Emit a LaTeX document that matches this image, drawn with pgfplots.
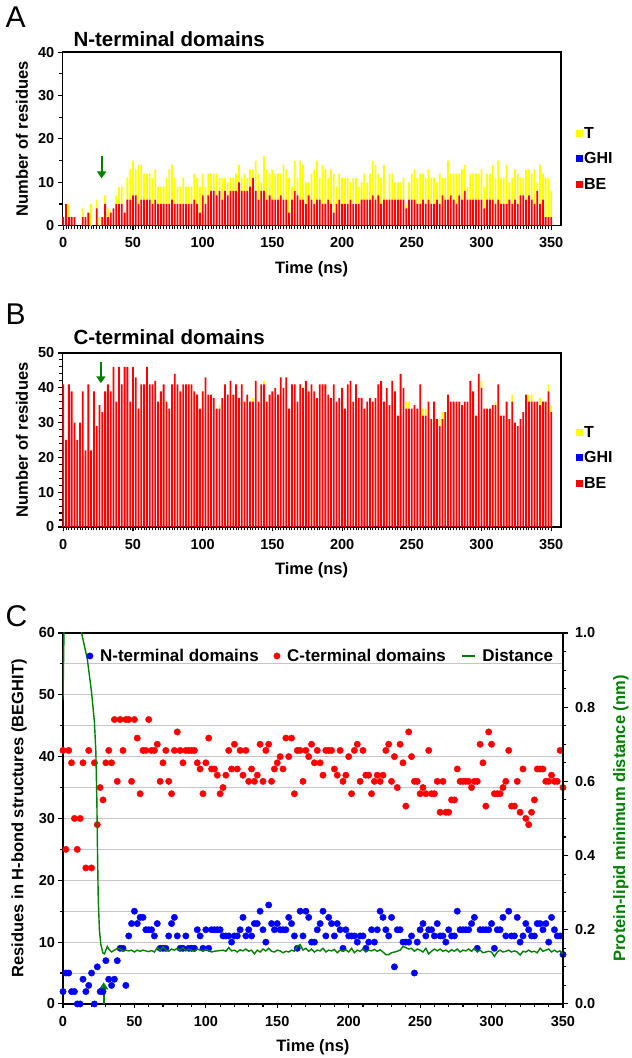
\documentclass[border=0pt]{standalone}
\usepackage{fontspec}
\setmainfont{Liberation Sans}
\usepackage{pgfplots}
\pgfplotsset{compat=1.18}
\usepackage{pgfplotstable}
\usetikzlibrary{arrows.meta}
\definecolor{dgreen}{RGB}{0,128,0}
\definecolor{myyellow}{RGB}{255,255,0}

% N-terminal domains: total (BEGHIT), BE, T
\pgfplotstableread{
t tot BE T
0 2 2 0
2 5 5 0
4 5 2 3
6 2 2 0
8 2 2 0
10 0 0 0
12 0 0 0
14 4 2 2
16 2 2 0
18 3 3 0
20 5 0 5
22 0 0 0
24 6 4 2
26 2 0 2
28 2 2 0
30 7 5 2
32 4 2 2
34 3 3 0
36 4 4 0
38 7 5 2
40 9 5 4
42 9 5 4
44 3 3 0
46 11 6 5
48 13 6 7
50 15 7 8
52 13 7 6
54 14 5 9
56 14 6 8
58 12 6 6
60 12 6 6
62 12 6 6
64 11 5 6
66 13 6 7
68 9 5 4
70 9 5 4
72 9 5 4
74 11 5 6
76 13 5 8
78 14 6 8
80 11 5 6
82 9 5 4
84 9 5 4
86 11 5 6
88 9 5 4
90 9 5 4
92 9 5 4
94 12 6 6
96 11 5 6
98 9 3 6
100 12 7 5
102 9 5 4
104 12 7 5
106 12 8 4
108 12 8 4
110 12 7 5
112 11 8 3
114 11 6 5
116 11 8 3
118 10 7 3
120 11 8 3
122 11 8 3
124 12 8 4
126 14 10 4
128 11 8 3
130 12 8 4
132 11 8 3
134 13 9 4
136 13 11 2
138 15 8 7
140 12 6 6
142 10 8 2
144 16 8 8
146 13 6 7
148 12 7 5
150 13 6 7
152 12 6 6
154 12 6 6
156 12 7 5
158 14 6 8
160 13 6 7
162 11 3 8
164 9 6 3
166 15 8 7
168 11 7 4
170 15 6 9
172 14 6 8
174 10 5 5
176 10 7 3
178 12 6 6
180 13 5 8
182 15 6 9
184 11 6 5
186 14 5 9
188 13 5 8
190 11 6 5
192 13 5 8
194 12 3 9
196 9 5 4
198 12 6 6
200 11 5 6
202 11 5 6
204 11 5 6
206 10 6 4
208 11 5 6
210 11 5 6
212 9 5 4
214 10 6 4
216 12 6 6
218 10 6 4
220 12 6 6
222 15 7 8
224 14 6 8
226 12 7 5
228 11 5 6
230 14 6 8
232 6 6 0
234 12 6 6
236 12 6 6
238 10 6 4
240 10 6 4
242 10 6 4
244 11 6 5
246 5 4 1
248 10 6 4
250 12 6 6
252 13 6 7
254 11 5 6
256 12 5 7
258 12 6 6
260 11 5 6
262 13 6 7
264 11 5 6
266 11 5 6
268 10 6 4
270 12 5 7
272 11 7 4
274 11 6 5
276 15 6 9
278 12 7 5
280 12 6 6
282 12 5 7
284 12 7 5
286 13 6 7
288 14 8 6
290 9 6 3
292 12 6 6
294 12 6 6
296 12 6 6
298 12 6 6
300 13 6 7
302 9 4 5
304 12 6 6
306 12 6 6
308 14 6 8
310 11 5 6
312 15 6 9
314 11 5 6
316 11 5 6
318 14 5 9
320 10 6 4
322 11 5 6
324 13 6 7
326 12 5 7
328 11 7 4
330 11 7 4
332 13 6 7
334 13 7 6
336 12 6 6
338 13 5 8
340 10 8 2
342 14 5 9
344 12 6 6
346 11 2 9
348 11 2 9
350 8 2 6
}\Ntab

% C-terminal domains: total (BEGHIT), BE, T
\pgfplotstableread{
t tot BE T
0 41 41 0
2 25 25 0
4 41 41 0
6 39 39 0
8 30 30 0
10 25 25 0
12 30 30 0
14 39 39 0
16 22 22 0
18 41 41 0
20 22 22 0
22 39 39 0
24 29 29 0
26 35 35 0
28 33 33 0
30 39 39 0
32 41 41 0
34 39 39 0
36 46 46 0
38 36 36 0
40 46 46 0
42 41 41 0
44 46 46 0
46 46 46 0
48 36 36 0
50 46 46 0
52 43 43 0
54 34 34 0
56 41 41 0
58 41 41 0
60 46 46 0
62 41 41 0
64 41 41 0
66 42 42 0
68 36 36 0
70 39 39 0
72 41 41 0
74 36 36 0
76 34 34 0
78 41 41 0
80 44 44 0
82 41 41 0
84 39 39 0
86 41 41 0
88 41 41 0
90 41 41 0
92 41 41 0
94 39 39 0
96 38 38 0
98 34 34 0
100 39 39 0
102 43 43 0
104 38 38 0
106 38 38 0
108 37 37 0
110 34 34 0
112 35 34 1
114 37 37 0
116 41 41 0
118 38 38 0
120 42 42 0
122 38 38 0
124 41 41 0
126 37 37 0
128 41 41 0
130 36 36 0
132 38 38 0
134 36 36 0
136 37 36 1
138 42 42 0
140 36 36 0
142 41 41 0
144 42 41 1
146 36 36 0
148 38 38 0
150 39 39 0
152 40 40 0
154 38 38 0
156 43 43 0
158 40 40 0
160 43 43 0
162 34 34 0
164 41 41 0
166 41 41 0
168 36 36 0
170 41 41 0
172 40 40 0
174 42 42 0
176 39 39 0
178 41 41 0
180 39 39 0
182 37 37 0
184 41 41 0
186 41 41 0
188 41 41 0
190 38 38 0
192 37 37 0
194 41 41 0
196 36 36 0
198 37 37 0
200 40 40 0
202 34 34 0
204 41 41 0
206 42 42 0
208 36 36 0
210 41 41 0
212 37 37 0
214 37 37 0
216 34 34 0
218 36 36 0
220 37 37 0
222 36 36 0
224 37 37 0
226 41 41 0
228 42 42 0
230 36 36 0
232 40 40 0
234 35 35 0
236 42 42 0
238 39 39 0
240 32 32 0
242 44 44 0
244 40 40 0
246 36 34 2
248 36 34 2
250 34 34 0
252 35 35 0
254 34 34 0
256 41 41 0
258 34 32 2
260 34 32 2
262 36 36 0
264 31 31 0
266 36 36 0
268 31 31 0
270 31 29 2
272 33 31 2
274 33 33 0
276 38 38 0
278 36 36 0
280 36 36 0
282 36 36 0
284 36 36 0
286 35 35 0
288 36 36 0
290 36 36 0
292 42 42 0
294 39 39 0
296 32 32 0
298 44 44 0
300 42 40 2
302 34 34 0
304 34 34 0
306 34 34 0
308 35 35 0
310 36 35 1
312 41 41 0
314 32 32 0
316 32 32 0
318 36 36 0
320 31 31 0
322 38 36 2
324 30 30 0
326 29 29 0
328 31 31 0
330 33 33 0
332 38 38 0
334 38 36 2
336 38 36 2
338 36 36 0
340 36 36 0
342 37 35 2
344 36 36 0
346 36 36 0
348 41 39 2
350 35 33 2
}\Ctab

% protein-lipid minimum distance (nm)
\pgfplotstableread{
t d
0 0.82
0.5 0.95
1 1.08
2 1.25
4 1.35
8 1.35
11 1.2
13 1.0
17 0.93
20 0.84
22 0.76
23 0.68
23.7 0.55
24.2 0.40
24.7 0.28
25.5 0.20
26.5 0.16
28 0.137
29 0.135
30 0.145
31 0.155
32 0.148
34 0.14
36 0.145
38 0.15
40 0.148
42 0.142
44 0.145
46 0.143
48 0.145
50 0.14
52 0.145
54 0.142
56 0.145
58 0.143
60 0.141
62 0.144
64 0.14
66 0.152
68 0.143
70 0.155
72 0.145
74 0.142
76 0.148
78 0.145
80 0.15
82 0.145
84 0.152
86 0.143
88 0.148
90 0.145
92 0.142
94 0.148
96 0.145
98 0.143
100 0.147
102 0.144
104 0.14
106 0.142
108 0.143
110 0.144
112 0.145
114 0.142
116 0.152
118 0.143
120 0.145
122 0.14
124 0.146
126 0.143
128 0.148
130 0.142
132 0.145
134 0.135
136 0.145
138 0.14
140 0.148
142 0.143
144 0.15
146 0.142
148 0.14
150 0.145
152 0.143
154 0.138
156 0.142
158 0.14
160 0.145
162 0.142
164 0.155
166 0.16
168 0.145
170 0.15
172 0.142
174 0.148
176 0.14
178 0.145
180 0.143
182 0.15
184 0.14
186 0.145
188 0.143
190 0.147
192 0.138
194 0.145
196 0.142
198 0.146
200 0.14
202 0.15
204 0.138
206 0.145
208 0.142
210 0.148
212 0.14
214 0.145
216 0.143
218 0.147
220 0.142
222 0.146
224 0.14
226 0.133
228 0.133
230 0.138
232 0.14
234 0.142
236 0.145
238 0.155
240 0.152
242 0.148
244 0.15
246 0.142
248 0.148
250 0.145
252 0.14
254 0.15
256 0.135
258 0.142
260 0.148
262 0.143
264 0.148
266 0.142
268 0.145
270 0.14
272 0.146
274 0.142
276 0.148
278 0.14
280 0.145
282 0.143
284 0.148
286 0.142
288 0.15
290 0.14
292 0.145
294 0.138
296 0.14
298 0.142
300 0.14
302 0.128
304 0.14
306 0.145
308 0.14
310 0.142
312 0.145
314 0.14
316 0.143
318 0.14
320 0.132
322 0.142
324 0.14
326 0.145
328 0.14
330 0.142
332 0.138
334 0.15
336 0.142
338 0.145
340 0.148
342 0.14
344 0.145
346 0.14
348 0.143
350 0.135
}\Dtab

\pgfplotsset{
  base/.style={
    scale only axis,
    axis line style={line width=1.4pt},
    every tick/.style={black, line width=1.1pt},
    major tick length=4.5pt, minor tick length=3pt,
    tick align=outside,
    tick label style={font=\fontsize{14.5}{16}\selectfont\bfseries},
    xticklabel style={yshift=-4pt},
    /pgf/number format/assume math mode=true,
    label style={font=\fontsize{16.5}{19}\selectfont\bfseries},
  },
  sqleg/.style={legend image code/.code={\fill[##1] (0pt,-3.5pt) rectangle (7pt,3.5pt);}},
  lineleg/.style={legend image code/.code={\draw[##1] (0pt,0pt) -- (13pt,0pt);}},
  dotleg/.style={legend image code/.code={\draw[##1] plot coordinates {(0pt,0pt)};}},
  barpanel/.style={
    base, tick pos=left,
    xmin=-0.7, xmax=357,
    xtick={0,50,...,350}, minor x tick num=24,
    minor x tick style={line width=0.9pt},
    ybar stacked, bar width=1.3,
    xlabel={Time (ns)}, ylabel={Number of residues},
    xlabel style={at={(axis description cs:0.5,-0.25)}, anchor=center},
    ylabel style={at={(axis description cs:-0.081,0.5)}, anchor=center},
    sqleg,
    reverse legend, legend cell align=left,
    legend style={anchor=north west,
      draw=none, fill=none, inner sep=0pt, row sep=11pt,
      font=\fontsize{16}{18}\selectfont\bfseries,
      nodes={inner sep=1pt}},
  },
}

\begin{document}
\begin{tikzpicture}[x=1pt,y=1pt]
\path (0pt,0pt) rectangle (630pt,1058pt);

% ---------------- Panel A ----------------
\node[anchor=base west, font=\fontsize{30}{30}\selectfont] at (2pt,1030pt) {A};
\node[anchor=base west, font=\fontsize{20.5}{23}\selectfont\bfseries] at (70pt,1011pt) {N-terminal domains};
\begin{axis}[barpanel, at={(62.3pt,832.3pt)}, anchor=south west,
  width=498.7pt, height=173.5pt,
  ymin=0, ymax=40, ytick={0,10,...,40}, minor y tick num=1,
  legend style={at={(axis description cs:1.03,0.575)}}]
\addplot[fill=red, draw=none] table[x=t, y=BE] {\Ntab};
\addlegendentry{BE}
\addlegendimage{fill=blue, draw=none}
\addlegendentry{GHI}
\addplot[fill=myyellow, draw=none] table[x=t, y=T] {\Ntab};
\addlegendentry{T}
\draw[dgreen, line width=2.2pt, -{Triangle[width=9pt,length=7pt]}] (axis cs:27.5,16) -- (axis cs:27.5,10.9);
\end{axis}

% ---------------- Panel B ----------------
\node[anchor=base west, font=\fontsize{30}{30}\selectfont] at (2pt,733pt) {B};
\node[anchor=base west, font=\fontsize{20.5}{23}\selectfont\bfseries] at (70pt,713pt) {C-terminal domains};
\begin{axis}[barpanel, at={(62.3pt,531pt)}, anchor=south west,
  width=498.7pt, height=174pt,
  ymin=0, ymax=50, ytick={0,10,...,50}, minor y tick num=4,
  legend style={at={(axis description cs:1.03,0.587)}}]
\addplot[fill=red, draw=none] table[x=t, y=BE] {\Ctab};
\addlegendentry{BE}
\addlegendimage{fill=blue, draw=none}
\addlegendentry{GHI}
\addplot[fill=myyellow, draw=none] table[x=t, y=T] {\Ctab};
\addlegendentry{T}
\draw[dgreen, line width=2.2pt, -{Triangle[width=9pt,length=7pt]}] (axis cs:27,47.3) -- (axis cs:27,41.3);
\end{axis}

% ---------------- Panel C ----------------
\node[anchor=base west, font=\fontsize{30}{30}\selectfont] at (2pt,431pt) {C};
\begin{axis}[base, at={(63pt,54pt)}, anchor=south west,
  width=500pt, height=371pt, tick pos=left,
  xmin=0, xmax=350, ymin=0, ymax=60,
  xtick={0,50,...,350}, minor x tick num=4,
  ytick={0,10,...,60}, minor y tick num=1,
  ymajorgrids, yminorgrids,
  major grid style={gray!45, line width=0.8pt},
  minor grid style={gray!45, line width=0.8pt},
  xlabel={Time (ns)},
  ylabel={Residues in H-bond structures (BEGHIT)},
  xlabel style={at={(axis description cs:0.5,-0.116)}, anchor=center},
  ylabel style={at={(axis description cs:-0.088,0.5)}, anchor=center}]
\addplot[only marks, mark=*, mark size=3.2pt, blue] table[x=t, y=tot] {\Ntab};
\addplot[only marks, mark=*, mark size=3.2pt, red] table[x=t, y=tot] {\Ctab};
\draw[dgreen, line width=2.2pt, -{Triangle[width=9pt,length=7pt]}] (axis cs:28.5,0) -- (axis cs:28.5,3.5);
\end{axis}
\begin{axis}[base, at={(63pt,54pt)}, anchor=south west,
  width=500pt, height=371pt,
  xmin=0, xmax=350, ymin=0, ymax=1,
  axis x line=none, axis y line*=right,
  major tick length=5.5pt, minor tick length=3.5pt,
  ytick={0,0.2,0.4,0.6,0.8,1}, minor y tick num=3,
  yticklabel style={xshift=3pt, /pgf/number format/.cd, fixed, fixed zerofill, precision=1},
  ylabel={Protein-lipid minimum distance (nm)},
  ylabel style={at={(axis description cs:1.116,0.5)}, anchor=center, text=dgreen},
  legend columns=3, legend cell align=left,
  legend style={at={(axis description cs:0.047,0.938)}, anchor=west,
    draw=none, fill=none, inner sep=0pt,
    font=\fontsize{17}{19}\selectfont\bfseries,
    /tikz/every odd column/.append style={column sep=5pt},
    /tikz/every even column/.append style={column sep=13pt}}]
\addlegendimage{only marks, mark=*, mark size=3.2pt, blue, dotleg}
\addlegendentry{N-terminal domains}
\addlegendimage{only marks, mark=*, mark size=3.2pt, red, dotleg}
\addlegendentry{C-terminal domains}
\addplot[dgreen, line width=1.4pt, lineleg] table[x=t, y=d] {\Dtab};
\addlegendentry{Distance}
\end{axis}
\end{tikzpicture}
\end{document}
